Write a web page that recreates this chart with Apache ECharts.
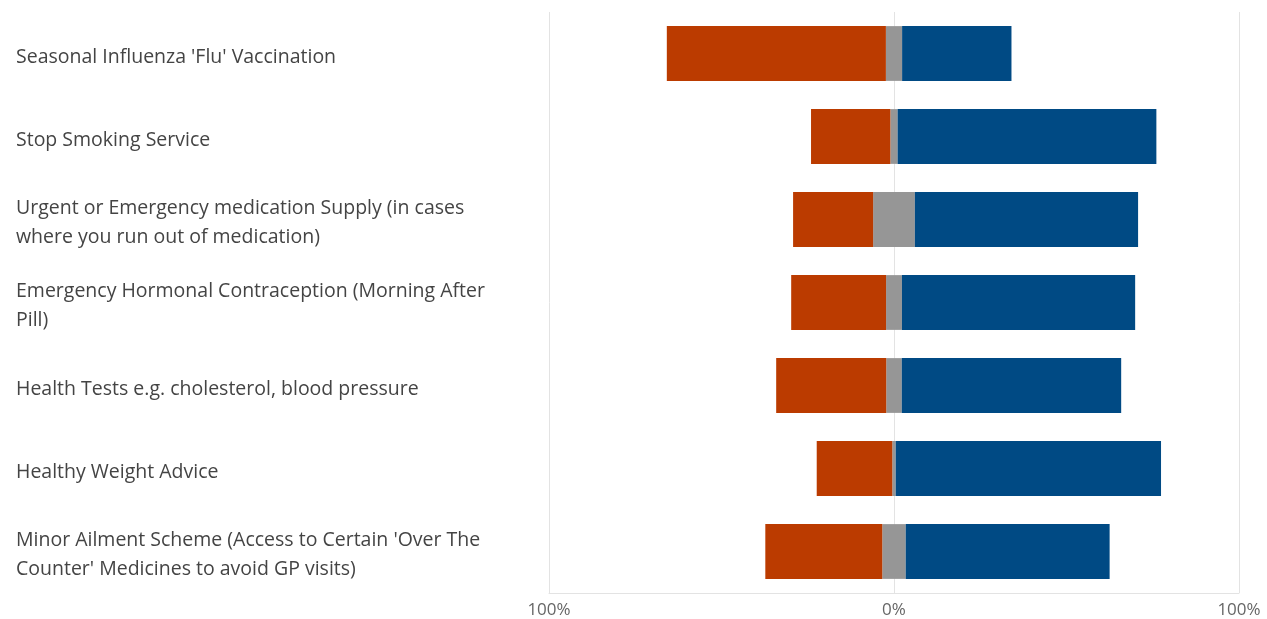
<!DOCTYPE html>
<html>
<head>
<meta charset="utf-8">
<script src="https://cdn.jsdelivr.net/npm/echarts@6/dist/echarts.min.js"></script>
<style>html,body{margin:0;padding:0;background:#fff;}#c{width:1267px;height:619px;}</style>
</head>
<body>
<div id="c"></div>
<script>
const categories = [
  "Seasonal Influenza 'Flu' Vaccination",
  "Stop Smoking Service",
  "Urgent or Emergency medication Supply (in cases where you run out of medication)",
  "Emergency Hormonal Contraception (Morning After Pill)",
  "Health Tests e.g. cholesterol, blood pressure",
  "Healthy Weight Advice",
  "Minor Ailment Scheme (Access to Certain 'Over The Counter' Medicines to avoid GP visits)"
];
const negative = [63.5, 23.0, 23.2, 27.5, 31.9, 21.9, 33.9];
const neutral  = [4.7, 2.1, 12.1, 4.6, 4.5, 1.0, 6.8];
const positive = [31.7, 75.0, 64.7, 67.6, 63.6, 76.9, 59.1];
const tickValues = [-100, 0, 100];

const chart = echarts.init(document.getElementById('c'), null, {renderer: 'canvas'});
const neutralLeft = neutral.map(v => -v / 2);
const neutralRight = neutral.map(v => v / 2);
const negVals = negative.map(v => -v);
const barCommon = {type: 'bar', barWidth: '66%', silent: true};
chart.setOption({
  animation: false,
  grid: {left: 549, right: 28, top: 12, bottom: 26, containLabel: false},
  xAxis: {
    type: 'value', min: tickValues[0], max: tickValues[2], interval: 100,
    axisLine: {show: true, lineStyle: {color: '#e3e3e3', width: 1}},
    axisTick: {show: false},
    splitLine: {show: true, lineStyle: {color: '#e3e3e3', width: 1}},
    axisLabel: {
      formatter: v => Math.abs(v) + '%', color: '#666666', fontSize: 17,
      fontFamily: 'Open Sans', margin: 9
    }
  },
  yAxis: {
    type: 'category', data: categories, inverse: true,
    axisLine: {show: false}, axisTick: {show: false},
    axisLabel: {
      align: 'left', margin: 533, color: '#444444', fontSize: 19.5,
      fontFamily: 'Open Sans', width: 500, overflow: 'break', lineHeight: 29,
      formatter: v => '{a|' + v + '}',
      rich: {a: {fontSize: 19.5, fontFamily: 'Open Sans', color: '#444444', lineHeight: 29, padding: [7, 0, 0, 0]}}
    }
  },
  series: [
    Object.assign({}, barCommon, {name: 'NeutralL', stack: 's', data: neutralLeft, itemStyle: {color: '#969696'}}),
    Object.assign({}, barCommon, {name: 'Negative', stack: 's', data: negVals, itemStyle: {color: '#BB3B00'}}),
    Object.assign({}, barCommon, {name: 'NeutralR', stack: 's', data: neutralRight, itemStyle: {color: '#969696'}}),
    Object.assign({}, barCommon, {name: 'Positive', stack: 's', data: positive, itemStyle: {color: '#004A84'}})
  ]
});
</script>
</body>
</html>
